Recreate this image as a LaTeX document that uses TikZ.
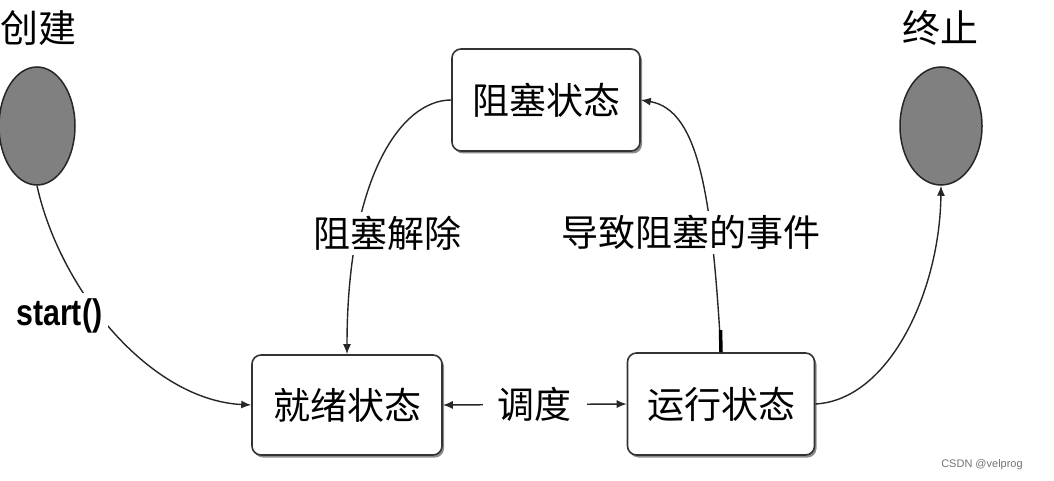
\documentclass[tikz,border=0pt]{standalone}
\usepackage{fontspec}
\newfontfamily\cjk{Noto Sans CJK SC}
\newfontfamily\startfont[FakeStretch=0.82]{Liberation Sans}
\newfontfamily\wmfont{Liberation Sans}
\usetikzlibrary{arrows.meta,shadows,shapes.geometric}
\begin{document}
\begin{tikzpicture}[x=1pt,y=-1pt,
  state/.style={draw=black!80, line width=1.6pt, rounded corners=9pt, fill=white,
    minimum width=188pt, minimum height=102pt, inner sep=0pt,
    font=\cjk\fontsize{37}{40}\selectfont,
    drop shadow={shadow xshift=2pt,shadow yshift=-2.5pt,fill=black!45,opacity=1}},
  term/.style={ellipse, draw=black!85, line width=1.5pt, fill=black!50, inner sep=0pt},
  title/.style={font=\cjk\fontsize{38}{40}\selectfont, inner sep=0pt},
  lbl/.style={fill=white, inner sep=4pt, font=\cjk\fontsize{37}{40}\selectfont},
  conn/.style={draw=black!85, line width=1.4pt, -{Latex[length=10pt,width=8pt]}},
  ]
\useasboundingbox (0,0) rectangle (1054,481);
% states
\node[state] (blocked) at (546,100) {阻塞状态};
\node[state, minimum width=190pt, minimum height=100pt] (ready) at (347,405) {就绪状态};
\node[state, minimum width=187pt, minimum height=102pt] (running) at (721,404) {运行状态};
% start / end
\node[term, minimum width=76pt, minimum height=118pt] (create) at (37,126) {};
\node[term, minimum width=82pt, minimum height=118pt] (end) at (941,126) {};
\node[title] (tcreate) at (39,28) {创建};
\node[title] (tend) at (940,28) {终止};
% connectors
\draw[conn] (create.south) .. controls (60,290) and (150,400) .. (ready.west)
  node[pos=0.42, xshift=-38pt, yshift=-4pt, fill=white, inner sep=6pt, font=\startfont\bfseries\fontsize{37}{38}\selectfont] {start()};
\draw[conn] (blocked.west) .. controls (400,100) and (347,180) .. (ready.north)
  node[lbl, pos=0.73, xshift=30pt] {阻塞解除};
\draw[conn] (running.north) .. controls (712,200) and (700,110) .. (blocked.east)
  node[lbl, pos=0.3, xshift=-20pt] {导致阻塞的事件};
\draw[line width=3.5pt] (running.north) -- ++(-0.5,-22);
\draw[conn, {Latex[length=10pt,width=8pt]}-{Latex[length=10pt,width=8pt]}] (ready.east) -- node[lbl, inner xsep=15pt] {调度} (running.west);
\draw[conn] (running.east) .. controls (890,400) and (940,290) .. (end.south);
% watermark
\node[font=\wmfont\fontsize{11}{12}\selectfont, text=black!55] (wm) at (982,465) {CSDN @velprog};
\end{tikzpicture}
\end{document}
